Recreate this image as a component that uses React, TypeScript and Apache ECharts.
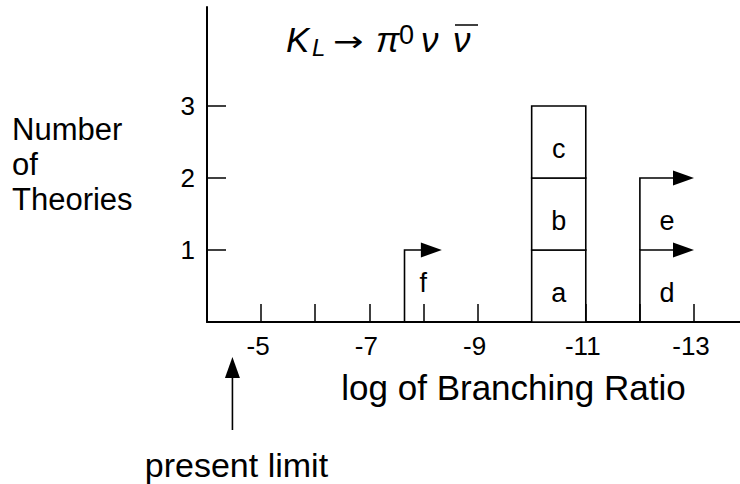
import React, { useEffect, useRef } from "react";
import * as echarts from "echarts";

// axis ticks / labels
const xTickValues = [-5, -6, -7, -8, -9, -10, -11, -12, -13];
const xLabelValues = [-5, -7, -9, -11, -13];
const yTickValues = [1, 2, 3];

// theories: a-c are ranges (boxes), d-f are bounds (arrows)
const theoryNames = ["a", "b", "c", "d", "e", "f"];
const theoryFrom = [-10, -10, -10, -12, -12, -7.65];
const theoryTo = [-11, -11, -11, -13, -13, -8.34];
const theoryBottom = [0, 1, 2, 0, 1, 0];
const theoryTop = [1, 2, 3, 1, 2, 1];
const theoryIsBound = [0, 0, 0, 1, 1, 1];
const labelLift = [0.4, 0.4, 0.4, 0.4, 0.4, 0.54];

const presentLimit = -4.47;

const FONT = "'Liberation Sans', Arial, Helvetica, sans-serif";

export default function App() {
  const ref = useRef<HTMLDivElement>(null);
  useEffect(() => {
    if (!ref.current) return;
    const chart = echarts.init(ref.current, null, { renderer: "svg" });
    const theoryData = theoryNames.map((n, i) => [
      theoryFrom[i],
      theoryTo[i],
      theoryBottom[i],
      theoryTop[i],
      theoryIsBound[i],
      labelLift[i],
    ]);
    const option: any = {
      animation: false,
      backgroundColor: "#fff",
      grid: { left: 207, right: 0, top: 7, bottom: 162 },
      xAxis: {
        type: "value",
        min: -13.85,
        max: -4,
        inverse: true,
        splitLine: { show: false },
        axisLine: { lineStyle: { color: "#000", width: 2 } },
        axisTick: {
          inside: true,
          length: 18,
          customValues: xTickValues,
          lineStyle: { color: "#000", width: 1.5 },
        },
        axisLabel: {
          customValues: xLabelValues,
          fontSize: 26,
          color: "#000",
          fontFamily: FONT,
          margin: 11,
          padding: [0, 6, 0, 0],
          formatter: (v: number) => String(v),
        },
        name: "log of Branching Ratio",
        nameLocation: "middle",
        nameGap: 48,
        nameTextStyle: {
          fontSize: 35,
          color: "#000",
          fontFamily: FONT,
          lineHeight: 35,
          padding: [0, 0, 0, 80],
        },
      },
      yAxis: {
        type: "value",
        min: 0,
        max: 4.375,
        splitLine: { show: false },
        axisLine: { lineStyle: { color: "#000", width: 2 } },
        axisTick: {
          inside: true,
          length: 19,
          customValues: yTickValues,
          lineStyle: { color: "#000", width: 1.5 },
        },
        axisLabel: {
          customValues: yTickValues,
          fontSize: 26,
          color: "#000",
          fontFamily: FONT,
          margin: 12,
          padding: [0, 0, 8, 0],
        },
        name: "Number\nof\nTheories",
        nameLocation: "middle",
        nameRotate: 0,
        nameGap: 195,
        nameTextStyle: {
          align: "left",
          verticalAlign: "middle",
          fontSize: 31,
          lineHeight: 35,
          color: "#000",
          fontFamily: FONT,
          padding: [8, 0, 0, 0],
        },
      },
      series: [
        {
          type: "custom",
          silent: true,
          clip: false,
          data: theoryData,
          renderItem: (params: any, api: any) => {
            const from = api.value(0);
            const to = api.value(1);
            const bottom = api.value(2);
            const top = api.value(3);
            const bound = api.value(4);
            const lift = api.value(5);
            const name = theoryNames[params.dataIndex];
            const pb = api.coord([from, bottom]);
            const pt = api.coord([to, top]);
            const children: any[] = [];
            if (!bound) {
              children.push({
                type: "rect",
                shape: {
                  x: Math.min(pb[0], pt[0]),
                  y: pt[1],
                  width: Math.abs(pt[0] - pb[0]),
                  height: pb[1] - pt[1],
                },
                style: { fill: "#fff", stroke: "#000", lineWidth: 1.6 },
              });
            } else {
              const tipX = pt[0];
              const y = pt[1];
              children.push({
                type: "polyline",
                shape: {
                  points: [
                    [pb[0], pb[1]],
                    [pb[0], y],
                    [tipX - 20, y],
                  ],
                },
                style: { stroke: "#000", lineWidth: 1.6, fill: null },
              });
              children.push({
                type: "polygon",
                shape: {
                  points: [
                    [tipX - 21, y - 7.5],
                    [tipX, y],
                    [tipX - 21, y + 7.5],
                  ],
                },
                style: { fill: "#000" },
              });
            }
            const lp = api.coord([(from + to) / 2, bottom + lift]);
            children.push({
              type: "text",
              x: lp[0],
              y: lp[1],
              style: {
                text: name,
                fontSize: 27,
                fontFamily: FONT,
                fill: "#000",
                align: "center",
                verticalAlign: "middle",
              },
            });
            return { type: "group", children };
          },
        },
        {
          type: "custom",
          silent: true,
          clip: false,
          data: [[presentLimit, 0]],
          renderItem: (params: any, api: any) => {
            const p = api.coord([api.value(0), api.value(1)]);
            const x = p[0];
            const y0 = p[1];
            return {
              type: "group",
              children: [
                {
                  type: "line",
                  shape: { x1: x, y1: y0 + 108, x2: x, y2: y0 + 55 },
                  style: { stroke: "#000", lineWidth: 1.6 },
                },
                {
                  type: "polygon",
                  shape: {
                    points: [
                      [x - 7.5, y0 + 56],
                      [x, y0 + 35],
                      [x + 7.5, y0 + 56],
                    ],
                  },
                  style: { fill: "#000" },
                },
                {
                  type: "text",
                  x: x + 4,
                  y: y0 + 143,
                  style: {
                    text: "present limit",
                    fontSize: 34,
                    fontFamily: FONT,
                    fill: "#000",
                    align: "center",
                    verticalAlign: "middle",
                  },
                },
              ],
            };
          },
        },
      ],
      graphic: [
        {
          type: "group",
          silent: true,
          children: [
            { type: "text", x: 286, y: 39, style: { text: "K", fontSize: 35, fontStyle: "italic", fontFamily: FONT, fill: "#000", verticalAlign: "middle" } },
            { type: "text", x: 312, y: 47, style: { text: "L", fontSize: 24, fontStyle: "italic", fontFamily: FONT, fill: "#000", verticalAlign: "middle" } },
            { type: "text", x: 333, y: 42, scaleX: 1.3, style: { text: "\u2192", fontSize: 28, fontFamily: "'DejaVu Sans', sans-serif", fill: "#000", verticalAlign: "middle" } },
            { type: "text", x: 376, y: 39, style: { text: "\u03c0", fontSize: 35, fontStyle: "italic", fontFamily: FONT, fill: "#000", verticalAlign: "middle" } },
            { type: "text", x: 399, y: 35, style: { text: "0", fontSize: 27, fontFamily: FONT, fill: "#000", verticalAlign: "middle" } },
            { type: "text", x: 421, y: 39, style: { text: "\u03bd", fontSize: 35, fontStyle: "italic", fontFamily: FONT, fill: "#000", verticalAlign: "middle" } },
            { type: "text", x: 453, y: 39, style: { text: "\u03bd", fontSize: 35, fontStyle: "italic", fontFamily: FONT, fill: "#000", verticalAlign: "middle" } },
            { type: "line", shape: { x1: 455, y1: 25, x2: 478, y2: 25 }, style: { stroke: "#000", lineWidth: 1.5 } },
          ],
        },
      ],
    };
    chart.setOption(option);
    return () => chart.dispose();
  }, []);
  return (
    <div
      ref={ref}
      style={{ position: "fixed", left: 0, top: 0, width: 740, height: 484, background: "#fff" }}
    />
  );
}
